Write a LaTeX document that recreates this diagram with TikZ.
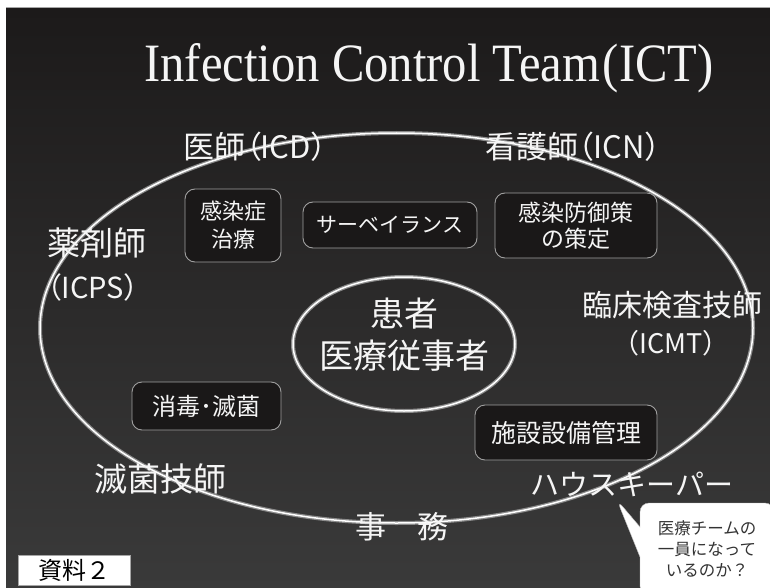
\documentclass[tikz,border=0pt]{standalone}
\usepackage{fontspec}
\setmainfont{Liberation Serif}
\newfontfamily\titlefont{Liberation Serif}[FakeStretch=0.9]
\newfontfamily\jp{Noto Sans CJK JP}
\newfontfamily\jpp{Noto Sans CJK JP}[RawFeature=+palt]
\usetikzlibrary{shapes.geometric,shapes.callouts}
\definecolor{bgtop}{HTML}{1C1A1A}
\definecolor{bgbot}{HTML}{3A3A3A}
\definecolor{txt}{HTML}{F5F5F5}
\definecolor{boxfill}{HTML}{1A1818}
\definecolor{boxline}{HTML}{A0A0A0}
\definecolor{ringshade}{HTML}{8A8A8A}
\definecolor{calltxt}{HTML}{333333}
\newcommand\fsz[2]{\fontsize{#1}{#2}\selectfont}
\tikzset{
  lbl/.style={text=txt, inner sep=0pt, font=\jp},
  lblp/.style={text=txt, inner sep=0pt, font=\jpp},
  taskbox/.style={draw=boxline, line width=0.9pt, fill=boxfill, rounded corners=10pt,
    text=txt, align=center, inner sep=0pt},
  ring/.style={ellipse, draw=white, line width=1.5pt,
    preaction={draw=ringshade, line width=4pt}, inner sep=0pt, align=center},
}
\begin{document}
\begin{tikzpicture}[x=1pt,y=-1pt]
\useasboundingbox (0,0) rectangle (770,588);
\clip (0,0) rectangle (770,588);
\fill[white] (0,0) rectangle (770,588);
\shade[top color=bgtop, bottom color=bgbot] (6,8) rectangle (772,590);
\draw[gray!70, line width=1pt] (6,8) -- (772,8);

% title
\node (title) [text=txt, inner sep=0pt, anchor=base, font=\titlefont\fsz{54}{60}] at (429,82)
  {Infection Control Team\hspace{3pt}(ICT)};

% outer team ellipse
\node (team) [ring, minimum width=713, minimum height=390] at (396.5,328) {};

% task boxes
\node (treat) [taskbox, minimum width=96, minimum height=73, font=\jp\fsz{22}{28}]
  at (233,225.5) {感染症\\治療};
\node (surv) [taskbox, minimum width=174, minimum height=46, font=\jp\fsz{21}{26}]
  at (390,225) {サーベイランス};
\node (prev) [taskbox, minimum width=162, minimum height=65, font=\jp\fsz{23}{26}]
  at (576,225.5) {感染防御策\\の策定};
\node (disinf) [taskbox, minimum width=149, minimum height=48, font=\jp\fsz{24}{28}]
  at (206.5,406) {消毒･滅菌};
\node (facil) [taskbox, minimum width=182, minimum height=55, font=\jp\fsz{25}{28}]
  at (566,432.5) {施設設備管理};

% centre ellipse
\node (core) [ring, minimum width=222, minimum height=134] at (404,344) {};
\node (coretext) [lbl, align=center, font=\jp\fsz{34}{42}] at (404,335) {患者\\医療従事者};

% role labels
\node (icd) [lblp, font=\jpp\fsz{31}{34}] at (255,147) {医師（ICD）};
\node (icn) [lblp, font=\jpp\fsz{31}{34}] at (573,147) {看護師（ICN）};
\node (pharm) [lbl, anchor=west, font=\jp\fsz{33}{36}] at (47,243) {薬剤師};
\node (icps) [lblp, anchor=west, font=\jpp\fsz{29}{32}] at (47,287) {（ICPS）};
\node (lab) [lbl, font=\jp\fsz{30}{34}] at (672,305) {臨床検査技師};
\node (icmt) [lbl, font=\jp\fsz{27}{30}] at (671,343) {（ICMT）};
\node (steril) [lbl, font=\jp\fsz{33}{36}] at (160,479) {滅菌技師};
\node (office) [lbl, font=\jp\fsz{31}{34}] at (402,527) {事　務};
\node (house) [lbl, font=\jp\fsz{29}{32}] at (632,484) {ハウスキーパー};

% callout
\node (ask) [rectangle callout, callout absolute pointer={(617,500)},
  callout pointer width=30pt, fill=white, draw=gray!50, rounded corners=9pt,
  minimum width=134, minimum height=92, align=center, inner sep=0pt,
  text=calltxt, font=\jp\fsz{16.5}{21}] at (707,549)
  {医療チームの\\一員になって\\いるのか？};

% document tag
\node (tag) [draw=gray!70, fill=white, minimum width=112, minimum height=30,
  inner sep=0pt, text=black, font=\jp\fsz{24}{26}] at (74,570) {資料２};
\end{tikzpicture}
\end{document}
